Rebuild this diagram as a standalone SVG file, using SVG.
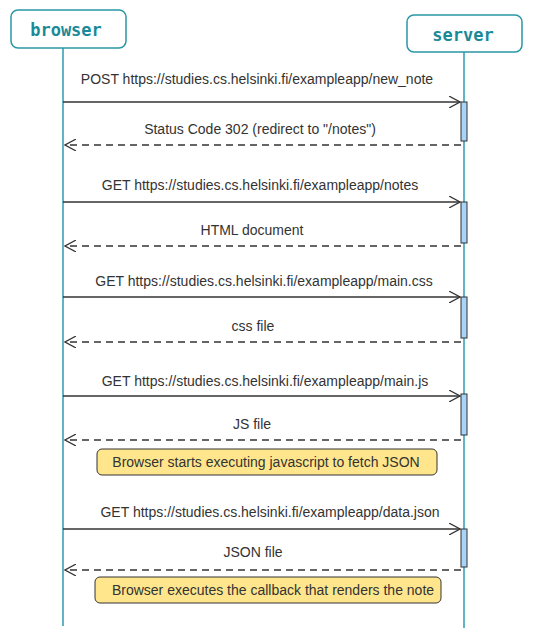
<svg xmlns="http://www.w3.org/2000/svg" width="536" height="638" viewBox="0 0 536 638">
<defs>
<marker id="open" markerWidth="12" markerHeight="12" refX="11" refY="6" orient="auto" markerUnits="userSpaceOnUse" viewBox="0 0 12 12">
<path d="M0,0 L11,6 L0,12" fill="none" stroke="#333" stroke-width="1.2"/>
</marker>
</defs>
<style>
.actor rect{fill:#fff;stroke:#2a97a5;stroke-width:1.5}
.actor text{font-family:"DejaVu Sans Mono","Liberation Mono",monospace;font-weight:bold;font-size:17px;fill:#1a8a98;text-anchor:middle}
.life{stroke:#2a9db0;stroke-width:1.5}
.msg{stroke:#333;stroke-width:1.3;fill:none}
.dash{stroke-dasharray:7,5}
.lbl{font-family:"Liberation Sans",Arial,sans-serif;font-size:14px;fill:#333;text-anchor:middle}
.act{fill:#a8d4f7;stroke:#333;stroke-width:1}
.note rect{fill:#ffe68c;stroke:#333;stroke-width:1}
.note text{font-family:"Liberation Sans",Arial,sans-serif;font-size:14px;fill:#333;text-anchor:middle}
</style>
<g id="lifelines">
<line class="life" x1="63" y1="48" x2="63" y2="626"/>
<line class="life" x1="464" y1="52" x2="464" y2="628"/>
</g>
<g id="browser" class="actor">
<rect x="11" y="10" width="115" height="38" rx="7"/>
<text x="66" y="36">browser</text>
</g>
<g id="server" class="actor">
<rect x="407" y="15" width="115" height="37" rx="7"/>
<text x="463" y="41">server</text>
</g>
<g id="activations">
<rect class="act" x="461" y="102" width="6" height="39"/>
<rect class="act" x="461" y="202" width="6" height="41"/>
<rect class="act" x="461" y="297" width="6" height="41"/>
<rect class="act" x="461" y="394" width="6" height="41"/>
<rect class="act" x="461" y="529" width="6" height="38"/>
</g>
<g id="connectors">
<line class="msg" x1="63" y1="102" x2="460" y2="102" marker-end="url(#open)"/>
<line class="msg dash" x1="461" y1="145" x2="65" y2="145" marker-end="url(#open)"/>
<line class="msg" x1="63" y1="202" x2="460" y2="202" marker-end="url(#open)"/>
<line class="msg dash" x1="461" y1="246" x2="65" y2="246" marker-end="url(#open)"/>
<line class="msg" x1="63" y1="297" x2="460" y2="297" marker-end="url(#open)"/>
<line class="msg dash" x1="461" y1="342" x2="65" y2="342" marker-end="url(#open)"/>
<line class="msg" x1="63" y1="396" x2="460" y2="396" marker-end="url(#open)"/>
<line class="msg dash" x1="461" y1="440" x2="65" y2="440" marker-end="url(#open)"/>
<line class="msg" x1="63" y1="529" x2="460" y2="529" marker-end="url(#open)"/>
<line class="msg dash" x1="461" y1="570" x2="65" y2="570" marker-end="url(#open)"/>
</g>
<g id="labels">
<text class="lbl" x="257" y="84">POST https://studies.cs.helsinki.fi/exampleapp/new_note</text>
<text class="lbl" x="260" y="134">Status Code 302 (redirect to "/notes")</text>
<text class="lbl" x="260" y="190">GET https://studies.cs.helsinki.fi/exampleapp/notes</text>
<text class="lbl" x="252" y="235">HTML document</text>
<text class="lbl" x="264" y="286">GET https://studies.cs.helsinki.fi/exampleapp/main.css</text>
<text class="lbl" x="253" y="331">css file</text>
<text class="lbl" x="265" y="386">GET https://studies.cs.helsinki.fi/exampleapp/main.js</text>
<text class="lbl" x="252" y="429">JS file</text>
<text class="lbl" x="270" y="517">GET https://studies.cs.helsinki.fi/exampleapp/data.json</text>
<text class="lbl" x="253" y="557">JSON file</text>
</g>
<g id="note1" class="note">
<rect x="97" y="449" width="340" height="26" rx="5"/>
<text x="266" y="467">Browser starts executing javascript to fetch JSON</text>
</g>
<g id="note2" class="note">
<rect x="95" y="577" width="346" height="26" rx="5"/>
<text x="273" y="595">Browser executes the callback that renders the note</text>
</g>
</svg>
